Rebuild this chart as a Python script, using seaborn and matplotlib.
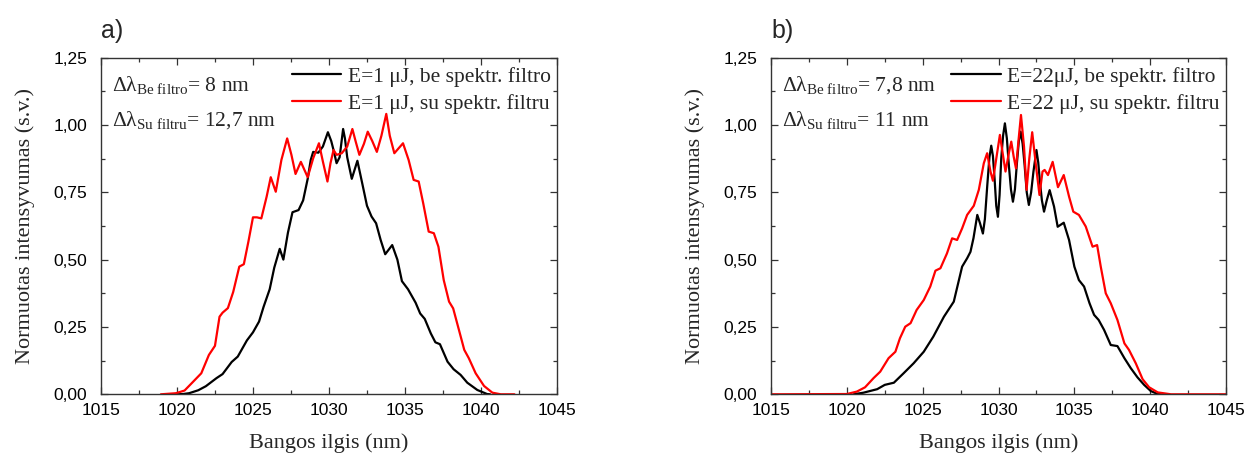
import numpy as np
import pandas as pd
import matplotlib
matplotlib.use("Agg")
import matplotlib.pyplot as plt
from matplotlib.ticker import MultipleLocator, FuncFormatter
import seaborn as sns

# ---- panel a: E = 1 uJ ----
a_nof_wl = [1020.0, 1020.4, 1020.8, 1021.4, 1021.9, 1022.6, 1023.0, 1023.6, 1024.0, 1024.6,
            1025.0, 1025.4, 1025.7, 1026.1, 1026.4, 1026.76, 1027.0, 1027.3, 1027.6, 1028.0,
            1028.3, 1028.6, 1028.8, 1028.96, 1029.3, 1029.6, 1029.93, 1030.15, 1030.3, 1030.5,
            1030.7, 1030.93, 1031.05, 1031.2, 1031.5, 1031.87, 1032.2, 1032.5, 1032.8, 1033.1,
            1033.4, 1033.7, 1034.16, 1034.5, 1034.8, 1035.2, 1035.7, 1036.0, 1036.3, 1036.7,
            1037.0, 1037.3, 1037.8, 1038.2, 1038.66, 1039.1, 1039.76, 1040.4, 1040.6]
a_nof_I = [0.0, 0.001, 0.004, 0.015, 0.03, 0.06, 0.075, 0.12, 0.14, 0.20,
           0.23, 0.27, 0.325, 0.39, 0.47, 0.54, 0.50, 0.60, 0.676, 0.684,
           0.72, 0.80, 0.87, 0.90, 0.897, 0.92, 0.973, 0.94, 0.907, 0.858,
           0.88, 0.985, 0.95, 0.88, 0.80, 0.867, 0.78, 0.70, 0.66, 0.635,
           0.573, 0.52, 0.554, 0.50, 0.42, 0.39, 0.34, 0.30, 0.28, 0.226,
           0.193, 0.186, 0.121, 0.093, 0.072, 0.043, 0.016, 0.001, 0.0]

a_f_wl = [1018.94, 1019.93, 1020.5, 1021.0, 1021.6, 1022.1, 1022.5, 1022.8, 1023.0, 1023.35,
          1023.7, 1024.1, 1024.4, 1024.7, 1025.0, 1025.26, 1025.55, 1025.9, 1026.17, 1026.5,
          1026.87, 1027.25, 1027.53, 1027.8, 1028.15, 1028.6, 1028.96, 1029.34, 1029.6, 1029.9,
          1030.1, 1030.3, 1030.5, 1030.84, 1031.2, 1031.54, 1031.75, 1032.0, 1032.3, 1032.55,
          1032.85, 1033.15, 1033.45, 1033.77, 1034.0, 1034.3, 1034.87, 1035.24, 1035.57, 1035.9,
          1036.2, 1036.56, 1036.9, 1037.2, 1037.55, 1037.9, 1038.17, 1038.55, 1038.9, 1039.2,
          1039.65, 1040.2, 1040.75, 1041.3, 1042.2]
a_f_I = [0.0, 0.004, 0.014, 0.043, 0.078, 0.146, 0.18, 0.288, 0.303, 0.32,
         0.38, 0.474, 0.483, 0.567, 0.657, 0.657, 0.653, 0.734, 0.806, 0.752,
         0.87, 0.95, 0.889, 0.818, 0.863, 0.806, 0.876, 0.932, 0.864, 0.79,
         0.858, 0.907, 0.889, 0.895, 0.92, 0.985, 0.94, 0.889, 0.93, 0.975,
         0.94, 0.90, 0.96, 1.041, 0.96, 0.895, 0.932, 0.87, 0.796, 0.79,
         0.709, 0.604, 0.598, 0.548, 0.424, 0.344, 0.319, 0.239, 0.165, 0.134,
         0.078, 0.031, 0.006, 0.0, 0.0]

# ---- panel b: E = 22 uJ ----
b_nof_wl = [1020.44, 1021.1, 1022.0, 1022.5, 1023.1, 1023.74, 1024.4, 1025.07, 1025.7, 1026.4,
            1027.05, 1027.6, 1027.93, 1028.15, 1028.35, 1028.6, 1028.78, 1028.97, 1029.1, 1029.26,
            1029.4, 1029.52, 1029.63, 1029.74, 1029.85, 1029.96, 1030.07, 1030.18, 1030.3, 1030.42,
            1030.55, 1030.68, 1030.82, 1030.95, 1031.08, 1031.21, 1031.34, 1031.46, 1031.59, 1031.72,
            1031.86, 1032.0, 1032.15, 1032.3, 1032.5, 1032.62, 1032.73, 1032.86, 1033.0, 1033.18,
            1033.37, 1033.66, 1033.9, 1034.3, 1034.65, 1035.0, 1035.3, 1035.64, 1036.0, 1036.3,
            1036.6, 1036.96, 1037.4, 1037.84, 1038.3, 1038.72, 1039.16, 1039.6, 1040.04, 1040.5,
            1040.9]
b_nof_I = [0.0, 0.006, 0.019, 0.035, 0.043, 0.078, 0.115, 0.158, 0.214, 0.288,
           0.344, 0.474, 0.505, 0.529, 0.58, 0.666, 0.635, 0.597, 0.65, 0.777,
           0.88, 0.923, 0.885, 0.80, 0.70, 0.659, 0.74, 0.876, 0.96, 1.006,
           0.95, 0.851, 0.76, 0.715, 0.76, 0.857, 0.94, 0.975, 0.93, 0.851,
           0.75, 0.703, 0.75, 0.826, 0.907, 0.86, 0.789, 0.72, 0.678, 0.72,
           0.758, 0.697, 0.622, 0.637, 0.573, 0.474, 0.424, 0.40, 0.338, 0.295,
           0.276, 0.239, 0.183, 0.179, 0.134, 0.097, 0.063, 0.035, 0.012, 0.001,
           0.0]

b_f_wl = [1015.0, 1020.0, 1020.66, 1021.2, 1021.76, 1022.2, 1022.75, 1023.2, 1023.5, 1023.85,
          1024.2, 1024.6, 1025.07, 1025.5, 1025.84, 1026.17, 1026.6, 1026.94, 1027.27, 1027.6,
          1027.93, 1028.37, 1028.7, 1029.03, 1029.25, 1029.47, 1029.63, 1029.87, 1030.09, 1030.29,
          1030.46, 1030.68, 1030.84, 1031.0, 1031.15, 1031.32, 1031.48, 1031.68, 1031.85, 1032.03,
          1032.22, 1032.45, 1032.7, 1032.9, 1033.04, 1033.26, 1033.57, 1033.92, 1034.3, 1034.65,
          1034.93, 1035.3, 1035.75, 1036.2, 1036.5, 1036.74, 1037.07, 1037.4, 1037.84, 1038.3,
          1038.6, 1039.05, 1039.5, 1039.93, 1040.5, 1041.37, 1045.0]
b_f_I = [0.0, 0.001, 0.01, 0.026, 0.06, 0.084, 0.134, 0.158, 0.208, 0.251,
         0.264, 0.313, 0.35, 0.40, 0.459, 0.468, 0.523, 0.579, 0.573, 0.616,
         0.666, 0.70, 0.759, 0.858, 0.895, 0.827, 0.793, 0.882, 0.963, 0.889,
         0.827, 0.895, 0.938, 0.882, 0.839, 0.944, 1.037, 0.92, 0.759, 0.876,
         0.973, 0.858, 0.74, 0.827, 0.833, 0.814, 0.863, 0.769, 0.814, 0.734,
         0.678, 0.666, 0.623, 0.548, 0.554, 0.474, 0.375, 0.338, 0.276, 0.189,
         0.165, 0.115, 0.056, 0.026, 0.007, 0.0, 0.0]

a_labels = ["E=1 \u03bcJ, be spektr. filtro", "E=1 \u03bcJ, su spektr. filtru"]
b_labels = ["E=22\u03bcJ, be spektr. filtro", "E=22 \u03bcJ, su spektr. filtru"]
a_notes = [r"$\Delta\lambda_{\mathrm{Be\ filtro}}$= 8 nm", r"$\Delta\lambda_{\mathrm{Su\ filtru}}$= 12,7 nm"]
b_notes = [r"$\Delta\lambda_{\mathrm{Be\ filtro}}$= 7,8 nm", r"$\Delta\lambda_{\mathrm{Su\ filtru}}$= 11 nm"]
panel_tags = ["a)", "b)"]
x_ticks = [1015, 1020, 1025, 1030, 1035, 1040, 1045]
y_ticks = [0.0, 0.25, 0.5, 0.75, 1.0, 1.25]

sns.set_theme(style="ticks")
plt.rcParams["font.family"] = ["Liberation Sans", "DejaVu Sans"]
plt.rcParams["mathtext.fontset"] = "custom"
plt.rcParams["mathtext.rm"] = "Liberation Serif"
plt.rcParams["mathtext.it"] = "Liberation Serif"
plt.rcParams["mathtext.bf"] = "Liberation Serif:bold"

serif = ["Liberation Serif", "DejaVu Serif"]


def frame(wl1, i1, wl2, i2, labels):
    d1 = pd.DataFrame({"wl": wl1, "I": i1, "series": labels[0]})
    d2 = pd.DataFrame({"wl": wl2, "I": i2, "series": labels[1]})
    return pd.concat([d1, d2], ignore_index=True)


fig = plt.figure(figsize=(12.48, 4.58), dpi=100)
ax_a = fig.add_axes([0.0809, 0.1391, 0.3654, 0.7351])
ax_b = fig.add_axes([0.6178, 0.1391, 0.3646, 0.7351])

panels = [
    (ax_a, frame(a_nof_wl, a_nof_I, a_f_wl, a_f_I, a_labels), a_labels, a_notes, panel_tags[0]),
    (ax_b, frame(b_nof_wl, b_nof_I, b_f_wl, b_f_I, b_labels), b_labels, b_notes, panel_tags[1]),
]

for ax, df, labels, notes, tag in panels:
    sns.lineplot(data=df, x="wl", y="I", hue="series", hue_order=labels,
                 palette=["black", "#ff0000"], linewidth=1.6, sort=False,
                 estimator=None, ax=ax, solid_joinstyle="round")
    ax.set_xlim(1015, 1045)
    ax.set_ylim(0, 1.25)
    ax.set_xticks(x_ticks)
    ax.set_yticks(y_ticks)
    ax.xaxis.set_minor_locator(MultipleLocator(2.5))
    ax.yaxis.set_minor_locator(MultipleLocator(0.125))
    ax.yaxis.set_major_formatter(FuncFormatter(lambda v, p: f"{v:.2f}".replace(".", ",")))
    ax.tick_params(which="both", direction="in", top=True, right=True, colors="#333333",
                   labelcolor="black", width=0.9)
    ax.tick_params(which="major", length=5, labelsize=12.5)
    ax.tick_params(axis="x", which="major", pad=6)
    ax.tick_params(axis="y", which="major", pad=10)
    ax.tick_params(which="minor", length=3)
    for s in ax.spines.values():
        s.set_visible(True)
        s.set_color("#333333")
        s.set_linewidth(1.0)
    ax.set_xlabel("Bangos ilgis (nm)", fontsize=16, family=serif, labelpad=11)
    ax.set_ylabel("Normuotas intensyvumas (s.v.)", fontsize=16, family=serif, labelpad=13)

    handles, _ = ax.get_legend_handles_labels()
    ax.legend(handles=handles, labels=labels, loc="upper right", frameon=False,
              prop={"family": serif, "size": 15.5}, handlelength=2.3, handletextpad=0.3,
              labelspacing=0.32, borderaxespad=0.0, bbox_to_anchor=(1.005, 0.998))

    ax.text(0.025, 0.92, notes[0], transform=ax.transAxes, fontsize=15.5,
            family=serif, va="center", ha="left")
    ax.text(0.025, 0.815, notes[1], transform=ax.transAxes, fontsize=15.5,
            family=serif, va="center", ha="left")
    ax.text(0.0, 1.08, tag, transform=ax.transAxes, fontsize=18, va="center", ha="left")

fig.savefig("out.png", dpi=100)
